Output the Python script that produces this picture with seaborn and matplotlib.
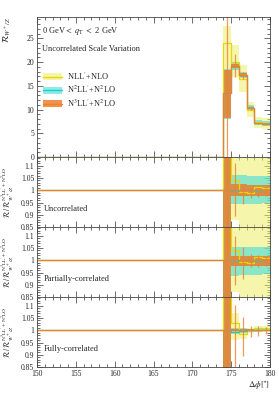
import matplotlib
matplotlib.use('Agg')
import matplotlib.pyplot as plt
import seaborn as sns
from matplotlib.patches import Patch
from matplotlib.lines import Line2D
from matplotlib.ticker import MultipleLocator, FixedLocator, FixedFormatter

# bin edges in delta phi (first bin is the empty 150-174 range)
edges = [150, 174, 175, 176, 177, 178, 179, 180]
centers = [174.5, 175.5, 176.5, 177.5, 178.5, 179.5]

names = ["NLL$'$+NLO", "N$^2$LL$'$+N$^2$LO", "N$^3$LL$'$+N$^2$LO"]

# main panel: R_{W+/Z}
nll_c = [0, 24.0, 20.0, 16.5, 10.0, 7.3, 7.0]
nll_lo = [0, 9.0, 16.8, 13.7, 8.4, 6.1, 6.0]
nll_hi = [0, 27.7, 23.5, 19.3, 11.6, 8.4, 8.2]
n2ll_c = [0, 13.4, 19.2, 17.2, 10.4, 7.2, 7.0]
n2ll_lo = [0, 8.0, 18.3, 16.6, 9.9, 6.7, 6.5]
n2ll_hi = [0, 18.5, 20.0, 17.9, 10.9, 7.8, 7.5]
n3ll_c = [0, 13.4, 19.1, 17.2, 10.4, 7.1, 6.9]
n3ll_lo = [0, 8.2, 18.7, 16.9, 10.2, 6.9, 6.8]
n3ll_hi = [0, 18.3, 19.5, 17.6, 10.6, 7.3, 7.1]
err_lo = [0, 16.8, 16.5, 10.0, 6.9, 6.7]
err_hi = [40, 21.8, 18.0, 10.8, 7.4, 7.2]

# ratio panel: uncorrelated
u_nll_c = [1, 1.5, 1.044, 0.994, 0.99, 1.015, 1.01]
u_nll_lo = [1, 0.5, 0.88, 0.5, 0.5, 0.5, 0.5]
u_nll_hi = [1, 1.5, 1.5, 1.5, 1.5, 1.5, 1.5]
u_n2ll_c = [1, 1.0, 0.998, 1.0, 1.0, 0.998, 1.0]
u_n2ll_lo = [1, 0.5, 0.943, 0.944, 0.946, 0.946, 0.948]
u_n2ll_hi = [1, 1.5, 1.064, 1.062, 1.06, 1.058, 1.058]
u_n3ll_c = [1, 1, 1, 1, 1, 1, 1]
u_n3ll_lo = [1, 0.5, 0.976, 0.976, 0.977, 0.977, 0.977]
u_n3ll_hi = [1, 1.5, 1.024, 1.024, 1.023, 1.023, 1.023]
u_err_lo = [0.5, 0.896, 0.944, 0.97, 0.972, 0.975]
u_err_hi = [1.5, 1.11, 1.024, 1.01, 1.01, 1.008]

# ratio panel: partially-correlated
p_nll_c = [1, 1.5, 1.04, 0.995, 0.99, 1.012, 1.01]
p_nll_lo = [1, 0.5, 0.87, 0.5, 0.5, 0.5, 0.5]
p_nll_hi = [1, 1.5, 1.5, 1.5, 1.5, 1.5, 1.5]
p_n2ll_c = [1, 1.0, 0.998, 1.0, 1.0, 0.998, 1.0]
p_n2ll_lo = [1, 0.5, 0.936, 0.938, 0.94, 0.94, 0.942]
p_n2ll_hi = [1, 1.5, 1.056, 1.056, 1.055, 1.054, 1.054]
p_n3ll_c = [1, 1, 1, 1, 1, 1, 1]
p_n3ll_lo = [1, 0.5, 0.975, 0.975, 0.976, 0.976, 0.977]
p_n3ll_hi = [1, 1.5, 1.018, 1.018, 1.017, 1.017, 1.017]
p_err_lo = [0.5, 0.90, 0.924, 0.972, 0.972, 0.978]
p_err_hi = [1.5, 1.10, 1.056, 1.024, 1.02, 1.016]

# ratio panel: fully-correlated
f_nll_c = [1, 1.5, 1.03, 0.985, 1.0, 1.008, 1.008]
f_nll_lo = [1, 0.5, 0.96, 0.965, 0.99, 0.995, 0.995]
f_nll_hi = [1, 1.5, 1.072, 1.0, 1.01, 1.018, 1.018]
f_n2ll_c = [1, 1.0, 0.995, 0.998, 1.0, 1.0, 1.0]
f_n2ll_lo = [1, 0.5, 0.985, 0.99, 0.995, 0.995, 0.996]
f_n2ll_hi = [1, 1.5, 1.01, 1.008, 1.005, 1.005, 1.004]
f_n3ll_c = [1, 1, 1, 1, 1, 1, 1]
f_n3ll_lo = [1, 0.5, 0.996, 0.996, 0.996, 0.997, 0.997]
f_n3ll_hi = [1, 1.5, 1.004, 1.004, 1.004, 1.003, 1.003]
f_err_lo = [0.5, 0.80, 0.896, 0.972, 0.975, 0.985]
f_err_hi = [1.5, 1.104, 1.056, 1.016, 1.016, 1.012]

ratio_ticks = [0.85, 0.9, 0.95, 1.0, 1.05, 1.1]
ratio_labels = ['0.85', '0.9', '0.95', '1', '1.05', '1.1']
x_ticks = [150, 155, 160, 165, 170, 175, 180]

sns.set_style("ticks")
plt.rcParams['font.family'] = ['Liberation Serif', 'DejaVu Serif']
plt.rcParams['mathtext.fontset'] = 'stix'

band_cols = ['#eeee66', '#44dddd', '#ee7722']
band_alpha = [0.55, 0.6, 0.8]
line_cols = ['#e6d800', '#22cccc', '#f08030']


def draw_series(ax, cs, los, his, err_lo_, err_hi_):
    for c, lo, hi, bc, ba, lc in zip(cs, los, his, band_cols, band_alpha, line_cols):
        ax.fill_between(edges, lo + [lo[-1]], hi + [hi[-1]], step='post',
                        color=bc, alpha=ba, lw=0)
    for c, lc in zip(cs, line_cols):
        sns.lineplot(x=edges, y=c + [c[-1]], drawstyle='steps-post', ax=ax,
                     color=lc, lw=0.9, errorbar=None, legend=False)
    ax.vlines(centers, err_lo_, err_hi_, color='#f08030', lw=0.9, alpha=0.8)


def style(ax):
    ax.set_xlim(150, 180)
    ax.xaxis.set_major_locator(MultipleLocator(5))
    ax.xaxis.set_minor_locator(MultipleLocator(1))
    ax.tick_params(which='both', direction='in', top=True, right=True,
                   labelsize=5.5, width=0.5, color='#333333', pad=2)
    ax.tick_params(which='major', length=4.5)
    ax.tick_params(which='minor', length=2.2)
    for s in ax.spines.values():
        s.set_linewidth(0.6)
        s.set_color('#444444')
    ax.set_xlabel('')
    ax.set_ylabel('')


fig = plt.figure(figsize=(2.79, 3.93), dpi=100)
L, W = 37 / 279, 233 / 279
ax0 = fig.add_axes([L, 1 - 157 / 393, W, 140 / 393])
axr = [fig.add_axes([L, 1 - b / 393, W, 70 / 393]) for b in (227, 297, 367)]

draw_series(ax0, [nll_c, n2ll_c, n3ll_c], [nll_lo, n2ll_lo, n3ll_lo],
            [nll_hi, n2ll_hi, n3ll_hi], err_lo, err_hi)
style(ax0)
ax0.set_ylim(0, 29.5)
ax0.yaxis.set_major_locator(MultipleLocator(5))
ax0.yaxis.set_minor_locator(MultipleLocator(1))
ax0.set_xticklabels([])
ax0.set_ylabel(r'$\mathcal{R}_{W^+/Z}$', fontsize=6.5, loc='top')
ax0.yaxis.set_label_coords(-0.105, 1.0)
ax0.text(0.02, 0.9, r'0 GeV$<$ $q_{\mathrm{T}}$ $<$ 2 GeV', transform=ax0.transAxes,
         fontsize=6, va='center')
ax0.text(0.02, 0.77, 'Uncorrelated Scale Variation', transform=ax0.transAxes,
         fontsize=6, va='center')
handles = [(Patch(color=bc, alpha=ba, lw=0), Line2D([], [], color=lc, lw=1.0))
           for bc, ba, lc in zip(band_cols, band_alpha, line_cols)]
ax0.legend(handles, names, loc='upper left', bbox_to_anchor=(0.0, 0.66),
           frameon=False, fontsize=6, handlelength=2.3, handleheight=0.9,
           labelspacing=0.25, handletextpad=0.6, borderaxespad=0.3)

ratio_sets = [
    ([u_nll_c, u_n2ll_c, u_n3ll_c], [u_nll_lo, u_n2ll_lo, u_n3ll_lo],
     [u_nll_hi, u_n2ll_hi, u_n3ll_hi], u_err_lo, u_err_hi, 'Uncorrelated'),
    ([p_nll_c, p_n2ll_c, p_n3ll_c], [p_nll_lo, p_n2ll_lo, p_n3ll_lo],
     [p_nll_hi, p_n2ll_hi, p_n3ll_hi], p_err_lo, p_err_hi, 'Partially-correlated'),
    ([f_nll_c, f_n2ll_c, f_n3ll_c], [f_nll_lo, f_n2ll_lo, f_n3ll_lo],
     [f_nll_hi, f_n2ll_hi, f_n3ll_hi], f_err_lo, f_err_hi, 'Fully-correlated'),
]
for i, (ax, (cs, los, his, elo, ehi, name)) in enumerate(zip(axr, ratio_sets)):
    draw_series(ax, cs, los, his, elo, ehi)
    style(ax)
    ax.set_ylim(0.85, 1.136)
    ax.yaxis.set_major_locator(FixedLocator(ratio_ticks))
    ax.yaxis.set_major_formatter(FixedFormatter(ratio_labels))
    ax.yaxis.set_minor_locator(MultipleLocator(0.01))
    ax.set_ylabel(r'$\mathcal{R}\,/\,\mathcal{R}^{\mathrm{N^3LL^{\prime}+N^2LO}}_{W^+/Z}$',
                  fontsize=5.5)
    ax.yaxis.set_label_coords(-0.088, 0.5)
    ax.text(0.03, 0.26, name, transform=ax.transAxes, fontsize=6, va='center')
    if i < 2:
        ax.set_xticklabels([])
    else:
        ax.xaxis.set_major_locator(FixedLocator(x_ticks))
        ax.set_xticklabels([str(t) for t in x_ticks])
        ax.set_xlabel(r'$\Delta\phi[^{\circ}]$', fontsize=6.5, loc='right',
                      labelpad=1)

fig.savefig('out.png', dpi=100)
